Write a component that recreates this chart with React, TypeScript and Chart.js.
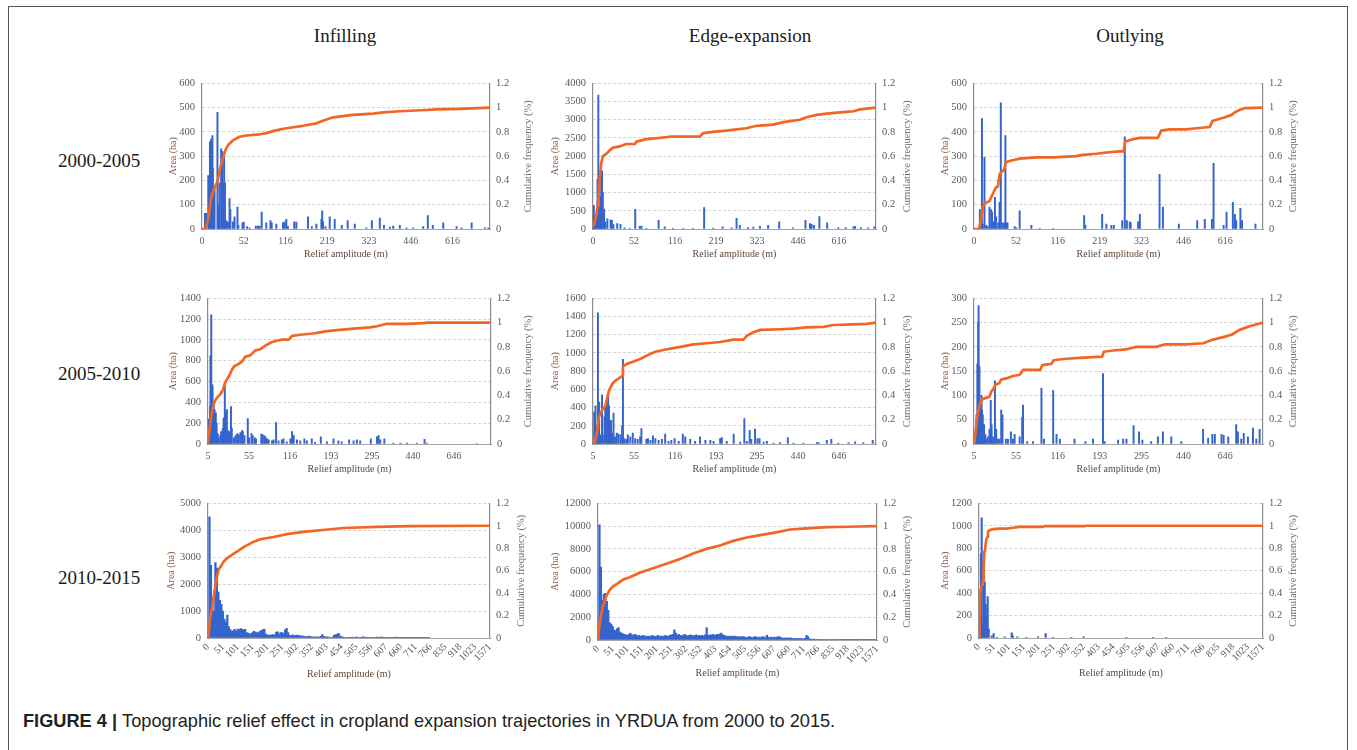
import React, { useEffect, useRef } from 'react';
import { Chart, registerables } from 'chart.js';

Chart.register(...registerables);

// ---------- tick labels ----------
const TICKS_2000 = ['0', '52', '116', '219', '323', '446', '616'];
const TICKS_2005 = ['5', '55', '116', '193', '295', '440', '646'];
const TICKS_2010 = ['0', '51', '101', '151', '201', '251', '302', '352', '403', '454', '505', '556', '607', '660', '711', '766', '835', '918', '1023', '1571'];

const COLUMN_TITLES = ['Infilling', 'Edge-expansion', 'Outlying'];
const ROW_TITLES = ['2000-2005', '2005-2010', '2010-2015'];

// ---------- 2000-2005 Infilling ----------
const INF00_BAR_X = [7,10,15,17,19,22,25,26,29,30,37,39,41,42,46,48,50,53,55,58,62,66,68,74,78,85,87,97,100,108,114,129,134,138,143,154,164,167,178,194,198,202,206,221,226,254,263,274,286,288,290,296,306,318,335,349,366,394,407,426,436,450,458,474,490,506,530,541,553,578,610,622,646,678,686];
const INF00_BAR_Y = [65,65,220,160,360,370,385,250,150,170,480,100,60,190,330,320,190,310,190,35,30,125,80,30,50,90,15,25,28,10,5,12,12,12,70,25,35,25,20,25,30,40,10,30,28,50,10,20,40,75,30,10,50,40,15,35,20,5,35,45,15,8,12,15,5,5,10,55,15,25,10,5,25,5,5];
const INF00_CUM_X = [0,8,10,16,22,30,37,42,50,55,62,74,90,106,138,154,174,202,242,274,288,314,362,410,434,474,538,562,618,690];
const INF00_CUM_Y = [0,0,0.02,0.1,0.26,0.34,0.39,0.48,0.58,0.64,0.69,0.73,0.76,0.77,0.78,0.79,0.81,0.83,0.85,0.87,0.89,0.92,0.94,0.95,0.96,0.97,0.98,0.985,0.99,1.0];

// ---------- 2000-2005 Edge-expansion ----------
const EDG00_BAR_X = [2,3,6,8,11,13,15,18,20,22,24,27,30,35,43,46,50,59,67,77,90,103,114,118,130,160,175,195,220,244,271,293,316,338,350,358,378,391,407,427,454,488,518,529,533,539,552,571,598,616,635,639,653,671,686];
const EDG00_BAR_Y = [650,150,200,400,1360,3680,600,900,1500,1600,1000,550,200,280,250,240,120,150,130,30,20,540,70,80,15,240,60,20,20,15,590,25,60,35,290,100,40,50,70,100,200,30,240,150,130,100,340,170,40,40,60,70,40,30,60];
const EDG00_CUM_X = [0,4,8,12,16,20,24,33,41,49,65,81,102,106,130,163,187,220,260,269,293,325,350,374,399,439,464,504,521,545,570,602,635,651,690];
const EDG00_CUM_Y = [0.02,0.05,0.11,0.21,0.39,0.54,0.6,0.62,0.65,0.67,0.68,0.7,0.7,0.72,0.74,0.75,0.76,0.76,0.76,0.79,0.8,0.81,0.82,0.83,0.85,0.86,0.88,0.9,0.92,0.94,0.95,0.96,0.97,0.985,1.0];

// ---------- 2000-2005 Outlying ----------
const OUT00_BAR_X = [14,19,21,25,29,33,37,41,43,47,50,53,58,61,64,68,72,75,77,80,97,101,109,137,157,189,263,266,306,316,328,334,354,360,365,372,374,392,396,443,451,489,533,551,568,572,596,603,618,623,626,636,640,672];
const OUT00_BAR_Y = [80,455,20,295,15,10,90,80,70,30,130,50,25,110,520,25,25,385,25,25,10,5,75,15,3,3,55,15,60,20,15,15,35,380,35,30,25,30,60,225,90,20,35,40,40,270,15,70,110,60,35,85,35,20];
const OUT00_CUM_X = [0,12,18,21,25,37,45,52,57,61,68,71,76,85,109,149,189,244,260,292,316,348,357,361,380,396,439,447,467,507,531,563,569,579,599,615,622,634,646,690];
const OUT00_CUM_Y = [0,0,0.1,0.18,0.21,0.23,0.29,0.34,0.35,0.45,0.48,0.48,0.55,0.56,0.58,0.59,0.59,0.6,0.61,0.62,0.63,0.64,0.64,0.72,0.74,0.75,0.75,0.81,0.82,0.82,0.83,0.84,0.89,0.9,0.92,0.94,0.96,0.98,0.995,1.0];

// ---------- 2005-2010 Infilling ----------
const INF05_BAR_X = [2,5,6,8,10,11,14,16,19,21,24,26,30,32,36,38,41,43,46,49,52,56,58,63,67,71,75,79,83,85,89,97,100,106,109,114,117,130,133,137,140,144,148,156,160,166,172,180,184,192,201,205,209,217,225,235,241,253,261,275,290,306,318,326,344,355,363,371,397,412,416,420,430,452,469,485,509,528,533,655];
const INF05_BAR_Y = [240,360,850,1240,570,560,400,330,300,200,100,60,80,120,150,250,560,300,330,130,120,360,150,60,80,100,90,110,130,120,80,245,60,100,80,60,50,95,90,80,70,50,40,30,40,205,30,40,50,20,50,120,80,40,30,50,30,50,15,70,20,50,30,20,40,30,40,30,50,70,80,40,50,10,10,10,10,45,10,5];
const INF05_CUM_X = [0,3,7,11,16,22,30,37,41,46,53,58,64,75,83,91,103,115,127,140,156,168,180,197,205,225,257,290,322,355,395,412,436,485,525,534,690];
const INF05_CUM_Y = [0,0.1,0.21,0.29,0.35,0.38,0.41,0.45,0.5,0.53,0.57,0.61,0.64,0.66,0.68,0.72,0.73,0.77,0.78,0.81,0.84,0.85,0.86,0.86,0.89,0.9,0.91,0.93,0.94,0.95,0.96,0.97,0.99,0.99,0.996,1.0,1.0];

// ---------- 2005-2010 Edge-expansion ----------
const EDG05_BAR_X = [3,6,10,12,15,17,19,22,24,28,30,34,37,39,41,44,46,49,50,54,58,62,67,71,73,76,81,85,91,97,103,109,115,118,130,134,140,146,152,160,168,176,184,191,199,209,219,225,237,249,261,274,286,294,310,314,326,343,359,369,375,382,386,395,401,406,416,424,440,456,475,489,513,546,550,570,581,598,623,639,659,682];
const EDG05_BAR_Y = [350,420,200,1440,460,100,80,540,100,300,400,490,540,420,260,260,100,120,340,80,120,110,100,200,930,60,50,100,80,120,60,50,80,170,50,60,40,90,60,40,50,110,30,40,60,30,110,80,50,30,80,40,40,30,60,70,30,110,20,280,30,150,50,165,60,60,20,30,10,15,70,10,10,15,15,40,50,10,15,25,15,40];
const EDG05_CUM_X = [0,6,10,14,18,24,30,34,38,42,46,54,63,71,73,83,99,115,132,152,180,213,245,278,310,343,367,375,391,408,456,489,521,562,586,635,667,690];
const EDG05_CUM_Y = [0,0.03,0.1,0.22,0.25,0.29,0.31,0.37,0.43,0.46,0.49,0.52,0.54,0.56,0.64,0.66,0.68,0.7,0.73,0.76,0.78,0.8,0.82,0.83,0.84,0.86,0.86,0.89,0.92,0.94,0.945,0.95,0.96,0.965,0.98,0.985,0.99,1.0];

// ---------- 2005-2010 Outlying ----------
const OUT05_BAR_X = [2,6,8,10,11,13,15,18,19,21,24,27,29,33,37,40,42,45,48,50,53,57,61,65,68,76,81,88,93,97,109,115,117,127,141,161,167,189,197,205,240,266,284,308,312,344,356,364,381,394,402,423,439,451,471,495,547,559,569,575,591,596,607,626,630,638,644,654,666,674,682];
const OUT05_BAR_Y = [25,60,165,250,285,160,90,100,70,60,40,20,10,15,30,90,40,15,10,130,30,10,10,70,60,10,10,25,10,20,15,55,80,5,5,115,10,110,20,10,10,5,10,145,5,8,10,10,38,25,8,5,15,25,15,5,30,12,20,20,20,18,15,40,25,10,22,15,33,10,30];
const OUT05_CUM_X = [0,4,7,10,15,21,29,37,41,47,52,60,65,77,93,109,117,133,158,163,185,190,213,252,306,310,332,364,388,435,455,507,547,571,595,615,634,658,690];
const OUT05_CUM_Y = [0,0.1,0.21,0.27,0.34,0.37,0.38,0.39,0.43,0.46,0.49,0.5,0.53,0.54,0.56,0.57,0.61,0.61,0.61,0.65,0.66,0.69,0.7,0.71,0.72,0.76,0.77,0.78,0.8,0.8,0.82,0.82,0.83,0.86,0.88,0.9,0.94,0.97,1.0];

// ---------- 2010-2015 Infilling (one value per relief class) ----------
const INF10_BAR_Y = [
  200,4500,2700,1500,1000,2800,2600,1700,1400,1250,
  1000,700,600,850,420,320,250,280,320,250,
  330,300,350,320,300,320,200,180,150,160,
  200,250,220,190,200,250,280,310,320,150,
  120,100,110,120,130,120,220,230,150,200,
  200,160,300,360,200,100,80,120,80,100,
  110,100,80,80,70,60,50,50,70,50,
  40,30,40,30,40,30,60,130,60,40,
  30,40,20,20,30,100,130,150,170,80,
  40,30,20,20,15,10,20,30,15,10,
  40,20,10,15,30,40,15,10,20,10,
  15,20,10,10,30,10,10,40,10,10,
  10,10,10,20,10,10,10,30,10,10,
  10,10,10,10,10,10,10,10,10,10,
  5,5,5,5,5,5,5,5,5,5
];
const INF10_CUM_X = [0,0.7,1.6,2.7,3.8,4.9,6.1,7.2,8.7,10.5,12.8,16.1,19.5,24,29.6,35.2,44.2,53.1,64.3,75.6,91.3,113.7,136.1,190];
const INF10_CUM_Y = [0,0.07,0.19,0.27,0.36,0.46,0.55,0.61,0.64,0.68,0.71,0.74,0.77,0.81,0.85,0.88,0.9,0.925,0.945,0.96,0.98,0.99,0.997,1.0];

// ---------- 2010-2015 Edge-expansion (one value per relief class) ----------
const EDG10_BAR_Y = [
  800,10100,6400,3500,4000,4100,3400,2600,1500,1400,
  1200,900,800,1000,1100,700,600,550,500,450,
  400,500,600,450,400,500,450,350,400,350,
  350,400,300,350,300,350,300,400,350,300,
  350,400,300,350,300,350,400,300,350,400,
  450,500,900,600,400,500,400,350,400,500,
  400,350,400,450,400,350,400,450,350,400,
  350,400,350,450,1100,400,450,400,500,450,
  400,500,450,550,600,450,400,350,300,350,
  300,350,300,350,300,300,250,300,250,300,
  250,200,250,300,250,200,250,300,250,200,
  250,200,300,250,200,400,250,200,250,200,
  250,200,250,300,250,200,150,200,150,200,
  150,200,150,100,150,100,150,100,150,100,
  100,150,400,300,100,80,60,80,60,50,
  60,50,40,50,40,50,40,30,40,30,
  40,30,30,40,30,30,20,30,20,30,
  20,20,30,20,20,20,30,20,20,20,
  20,20,20,20,20,20,20,20,20,20
];
const EDG10_CUM_X = [0,0.7,1.4,2.3,3.4,4.6,5.7,8,10.2,13.7,17.1,21.6,28.4,37.5,46.6,55.7,64.8,73.9,83,92.1,101.3,110.4,119.5,130.8,142.2,155.9,169.5,190];
const EDG10_CUM_Y = [0,0.09,0.16,0.23,0.3,0.34,0.39,0.44,0.47,0.5,0.53,0.55,0.59,0.63,0.67,0.71,0.76,0.8,0.83,0.87,0.9,0.92,0.94,0.97,0.98,0.99,0.994,1.0];

// ---------- 2010-2015 Outlying ----------
const OUT10_BAR_X = [0.7,1.3,1.8,2.5,3.1,3.8,4.5,5.1,5.8,6.5,8.5,9.8,12,17.2,21.9,22.7,25.6,31.7,39.5,44.6,49.5,61.8,70,98.6,116.4,125.3];
const OUT10_BAR_Y = [10,750,1070,120,470,500,300,190,370,80,20,40,5,10,45,20,10,5,10,40,5,5,10,5,3,3];
const OUT10_CUM_X = [0,0.4,0.9,1.6,2.2,2.7,3.1,3.6,4,4.5,4.9,5.6,6,7.1,9.4,13.8,18.3,21.6,27.2,42.8,43.9,70.7,71.8,190];
const OUT10_CUM_Y = [0,0.16,0.42,0.45,0.48,0.51,0.62,0.77,0.78,0.84,0.88,0.9,0.95,0.96,0.97,0.975,0.975,0.98,0.99,0.99,0.997,0.997,1.0,1.0];

// ---------- styles ----------
const BLUE = '#3464CC';
const ORANGE = '#F26522';
const SERIF = '"Liberation Serif", "Times New Roman", serif';
const TICK_COLOR = '#595959';

type PanelCfg = {
  barX?: number[]; barY: number[]; cumX: number[]; cumY: number[];
  yMax: number; yStep: number; ticks: string[]; tickStep: number; xMax: number; rot: number;
  l: number; r: number; t: number; b: number; lw: number; rt: number; xh: number; barW: number;
};

const PANELS: PanelCfg[] = [
  { barX: INF00_BAR_X, barY: INF00_BAR_Y, cumX: INF00_CUM_X, cumY: INF00_CUM_Y, yMax: 600, yStep: 100, ticks: TICKS_2000, tickStep: 100, xMax: 690, rot: 0, l: 202, r: 490, t: 80, b: 229, lw: 35, rt: 38, xh: 31, barW: 1.3 },
  { barX: EDG00_BAR_X, barY: EDG00_BAR_Y, cumX: EDG00_CUM_X, cumY: EDG00_CUM_Y, yMax: 4000, yStep: 500, ticks: TICKS_2000, tickStep: 100, xMax: 690, rot: 0, l: 593, r: 876, t: 80, b: 229, lw: 44, rt: 31, xh: 31, barW: 1.3 },
  { barX: OUT00_BAR_X, barY: OUT00_BAR_Y, cumX: OUT00_CUM_X, cumY: OUT00_CUM_Y, yMax: 600, yStep: 100, ticks: TICKS_2000, tickStep: 100, xMax: 690, rot: 0, l: 974, r: 1263, t: 80, b: 229, lw: 35, rt: 30, xh: 31, barW: 1.3 },
  { barX: INF05_BAR_X, barY: INF05_BAR_Y, cumX: INF05_CUM_X, cumY: INF05_CUM_Y, yMax: 1400, yStep: 200, ticks: TICKS_2005, tickStep: 100, xMax: 690, rot: 0, l: 208, r: 491, t: 295, b: 444, lw: 41, rt: 37, xh: 31, barW: 1.3 },
  { barX: EDG05_BAR_X, barY: EDG05_BAR_Y, cumX: EDG05_CUM_X, cumY: EDG05_CUM_Y, yMax: 1600, yStep: 200, ticks: TICKS_2005, tickStep: 100, xMax: 690, rot: 0, l: 593, r: 876, t: 295, b: 444, lw: 44, rt: 31, xh: 31, barW: 1.3 },
  { barX: OUT05_BAR_X, barY: OUT05_BAR_Y, cumX: OUT05_CUM_X, cumY: OUT05_CUM_Y, yMax: 300, yStep: 50, ticks: TICKS_2005, tickStep: 100, xMax: 690, rot: 0, l: 974, r: 1263, t: 295, b: 444, lw: 35, rt: 30, xh: 31, barW: 1.3 },
  { barY: INF10_BAR_Y, cumX: INF10_CUM_X, cumY: INF10_CUM_Y, yMax: 5000, yStep: 500, ticks: TICKS_2010, tickStep: 10, xMax: 190, rot: 45, l: 208, r: 490, t: 500, b: 638, lw: 43, rt: 31, xh: 42, barW: 1.6 },
  { barY: EDG10_BAR_Y, cumX: EDG10_CUM_X, cumY: EDG10_CUM_Y, yMax: 12000, yStep: 2000, ticks: TICKS_2010, tickStep: 10, xMax: 190, rot: 45, l: 598, r: 877, t: 500, b: 640, lw: 49, rt: 30, xh: 39, barW: 1.6 },
  { barX: OUT10_BAR_X, barY: OUT10_BAR_Y, cumX: OUT10_CUM_X, cumY: OUT10_CUM_Y, yMax: 1200, yStep: 200, ticks: TICKS_2010, tickStep: 10, xMax: 190, rot: 45, l: 979, r: 1263, t: 500, b: 638, lw: 40, rt: 30, xh: 41, barW: 1.5 },
];

const TOP_PAD = 10;

const rightTitlePlugin = {
  id: 'rightTitle',
  afterDraw(chart: any, _args: any, opts: any) {
    const { ctx, chartArea } = chart;
    ctx.save();
    ctx.translate(chartArea.right + opts.offset, (chartArea.top + chartArea.bottom) / 2);
    ctx.rotate(-Math.PI / 2);
    ctx.font = `10.5px ${SERIF}`;
    ctx.fillStyle = opts.color;
    ctx.textAlign = 'center';
    ctx.textBaseline = 'middle';
    ctx.fillText(opts.text, 0, 0);
    ctx.restore();
  },
};

function PanelChart({ p }: { p: PanelCfg }) {
  const ref = useRef<HTMLCanvasElement>(null);
  const w = p.lw + (p.r - p.l) + p.rt + 10;
  const h = TOP_PAD + (p.b - p.t) + p.xh;

  useEffect(() => {
    const canvas = ref.current;
    if (!canvas) return;
    const bars = p.barY.map((y, i) => ({ x: p.barX ? p.barX[i] : i, y }));
    const cum = p.cumX.map((x, i) => ({ x, y: p.cumY[i] }));
    const chart = new Chart(canvas, {
      type: 'bar',
      data: {
        datasets: [
          {
            type: 'line',
            data: cum,
            yAxisID: 'y2',
            borderColor: ORANGE,
            borderWidth: 2.7,
            pointRadius: 0,
            tension: 0,
            order: 0,
            borderJoinStyle: 'round',
          } as any,
          {
            type: 'bar',
            data: bars,
            yAxisID: 'y',
            backgroundColor: BLUE,
            borderWidth: 0,
            barThickness: p.barW,
            order: 1,
          } as any,
        ],
      },
      options: {
        responsive: false,
        animation: false,
        events: [],
        layout: { padding: { top: TOP_PAD, left: 0, right: 0, bottom: 0 } },
        plugins: {
          legend: { display: false },
          tooltip: { enabled: false },
          rightTitle: { text: 'Cumulative frequency (%)', offset: p.rt, color: '#6E6E6E' },
        } as any,
        scales: {
          x: {
            type: 'linear',
            min: 0,
            max: p.xMax,
            offset: false,
            grid: { display: false, drawTicks: false },
            border: { display: true, color: '#A6A6A6', width: 1 },
            afterBuildTicks: (s: any) => {
              s.ticks = p.ticks.map((_, i) => ({ value: i * p.tickStep }));
            },
            afterFit: (s: any) => { s.height = p.xh; },
            ticks: {
              autoSkip: false,
              minRotation: p.rot,
              maxRotation: p.rot,
              padding: p.rot ? 3 : 6,
              color: TICK_COLOR,
              font: { family: SERIF, size: 10 },
              callback: (_v: any, i: number) => p.ticks[i],
            },
            title: {
              display: true,
              text: 'Relief amplitude (m)',
              color: '#5E4638',
              font: { family: SERIF, size: 10 },
              padding: { top: 0, bottom: 0 },
            },
          },
          y: {
            position: 'left',
            min: 0,
            max: p.yMax,
            grid: { color: '#D4D4D4', lineWidth: 1, drawTicks: false },
            border: { display: true, color: '#8C8C8C', width: 1.2, dash: [3, 2] },
            afterFit: (s: any) => { s.width = p.lw; },
            ticks: {
              stepSize: p.yStep,
              padding: 7,
              color: TICK_COLOR,
              font: { family: SERIF, size: 10.5 },
              callback: (v: any) => String(v),
            },
            title: {
              display: true,
              text: 'Area (ha)',
              color: '#8A5A44',
              font: { family: SERIF, size: 10 },
              padding: { top: 0, bottom: 0 },
            },
          },
          y2: {
            position: 'right',
            min: 0,
            max: 1.2,
            grid: { display: false, drawTicks: false },
            border: { display: true, color: '#8C8C8C', width: 1.2 },
            afterFit: (s: any) => { s.width = p.rt + 10; },
            ticks: {
              stepSize: 0.2,
              padding: 6,
              color: TICK_COLOR,
              font: { family: SERIF, size: 10.5 },
              callback: (v: any) => String(Math.round(Number(v) * 10) / 10),
            },
          },
        } as any,
      },
      plugins: [rightTitlePlugin as any],
    });
    return () => chart.destroy();
  }, [p]);

  return (
    <canvas
      ref={ref}
      width={w}
      height={h}
      style={{ position: 'absolute', left: p.l - p.lw, top: p.t - TOP_PAD, width: w, height: h }}
    />
  );
}

const COL_CENTERS = [345, 750, 1130];
const ROW_BASELINES = [166.5, 379.5, 583.5];

export default function App() {
  return (
    <div style={{ position: 'absolute', left: 0, top: 0, width: 1357, height: 750, overflow: 'hidden', background: '#fff' }}>
      <div style={{ position: 'absolute', left: 8, top: 6, width: 1340, height: 770, border: '1px solid #555', boxSizing: 'border-box' }} />
      {COLUMN_TITLES.map((t, i) => (
        <div key={t} style={{ position: 'absolute', left: COL_CENTERS[i] - 150, top: 26, width: 300, textAlign: 'center', fontFamily: SERIF, fontSize: 19, lineHeight: '19px', color: '#1a1a1a' }}>{t}</div>
      ))}
      {ROW_TITLES.map((t, i) => (
        <div key={t} style={{ position: 'absolute', left: 58, top: ROW_BASELINES[i] - 16, fontFamily: SERIF, fontSize: 19, lineHeight: '19px', color: '#1a1a1a', whiteSpace: 'nowrap' }}>{t}</div>
      ))}
      {PANELS.map((p, i) => <PanelChart key={i} p={p} />)}
      <div style={{ position: 'absolute', left: 23, top: 712, fontFamily: '"Liberation Sans", Arial, sans-serif', fontSize: 18.2, lineHeight: '18px', color: '#231f20', whiteSpace: 'nowrap' }}>
        <span style={{ fontWeight: 'bold' }}>FIGURE 4 | </span>Topographic relief effect in cropland expansion trajectories in YRDUA from 2000 to 2015.
      </div>
    </div>
  );
}
